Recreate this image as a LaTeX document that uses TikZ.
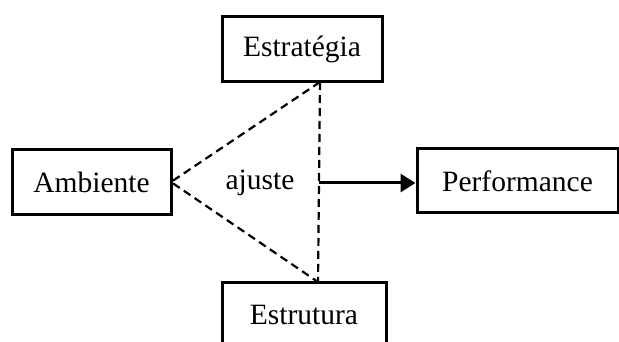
\documentclass[tikz,border=0pt]{standalone}
\usepackage{fontspec}
\setmainfont{Liberation Serif}
\usetikzlibrary{arrows.meta}
\begin{document}
\begin{tikzpicture}[x=1pt,y=-1pt,
  box/.style={draw,line width=3pt,inner sep=0pt,font=\fontsize{29.5}{33}\selectfont},
  dash line/.style={line width=2.2pt,dash pattern=on 8pt off 5pt},
  lbl/.style={font=\fontsize{29.5}{33}\selectfont}]
\useasboundingbox (0,0) rectangle (619,342);
\clip (0,0) rectangle (619,342);
\node[box,minimum width=160pt,minimum height=65pt] (estr) at (302,49.5) {Estratégia};
\node[box,minimum width=159pt,minimum height=65pt] (amb) at (91.5,182.5) {Ambiente};
\node[box,minimum width=201pt,minimum height=64pt] (perf) at (517.5,181) {Performance};
\node[box,minimum width=164pt,minimum height=65pt] (estru) at (304,314.5) {Estrutura};
\node[lbl] (aj) at (260,183) {ajuste};
\coordinate (top) at (320,82);
\coordinate (bot) at (318,282);
\coordinate (left) at (171,182);
\coordinate (mid) at (319,183);
\draw[dash line] (top) -- (left) -- (bot);
\draw[dash line] (top) -- (bot);
\draw[line width=3pt,-{Triangle[length=15pt,width=18pt]}] (mid) -- (mid -| perf.west);
\end{tikzpicture}
\end{document}
